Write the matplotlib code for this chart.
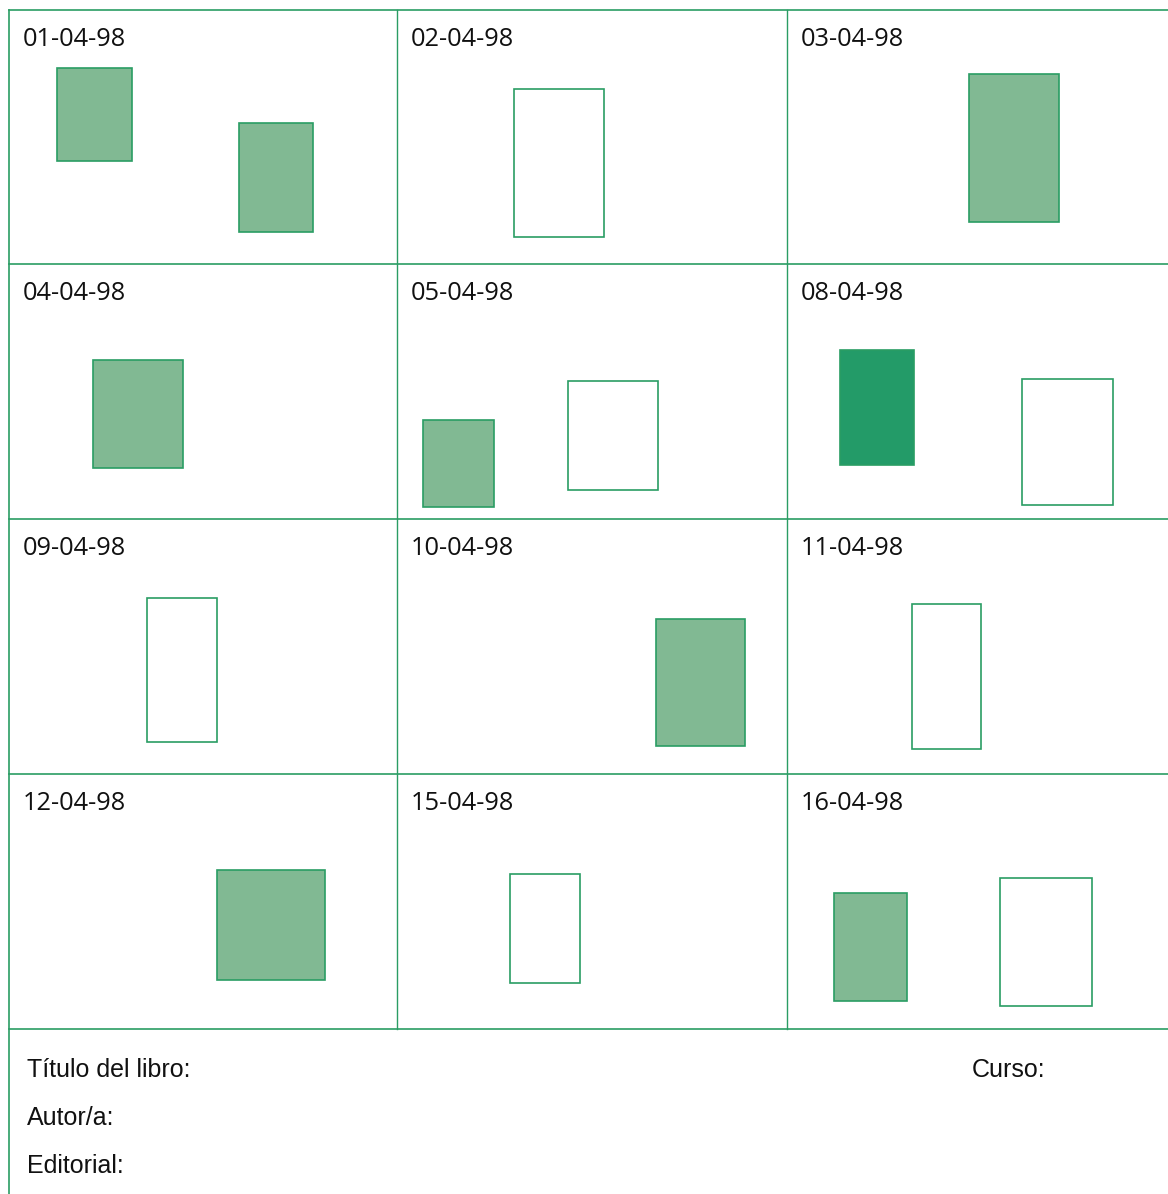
import matplotlib.pyplot as plt
from matplotlib.patches import Rectangle

# =======================
# grid (page pixel units)
# =======================
col_edges = [9, 397, 787, 1168]
row_edges = [10, 264, 519, 774, 1029]

dates = ["01-04-98", "02-04-98", "03-04-98",
         "04-04-98", "05-04-98", "08-04-98",
         "09-04-98", "10-04-98", "11-04-98",
         "12-04-98", "15-04-98", "16-04-98"]

# rectangles: left, top, right, bottom, kind
rect_left   = [57, 239, 514, 969, 93, 423, 568, 840, 1022, 147, 656, 912, 217, 510, 834, 1000]
rect_top    = [68, 123, 89, 74, 360, 420, 381, 350, 379, 598, 619, 604, 870, 874, 893, 878]
rect_right  = [132, 313, 604, 1059, 183, 494, 658, 914, 1113, 217, 745, 981, 325, 580, 907, 1092]
rect_bottom = [161, 232, 237, 222, 468, 507, 490, 465, 505, 742, 746, 749, 980, 983, 1001, 1006]
rect_kind   = ["fill", "fill", "empty", "fill", "fill", "fill", "empty", "dark", "empty",
               "empty", "fill", "empty", "fill", "empty", "fill", "empty"]

footer_left = ["Título del libro:", "Autor/a:", "Editorial:"]
footer_right = "Curso:"

# =======================
# colours
# =======================
line_green = '#2a9d64'
fill_light = '#81b993'
fill_dark  = '#239b68'

W, H = 1168, 1194
fig = plt.figure(figsize=(W / 100, H / 100), dpi=100)
ax = fig.add_axes([0, 0, 1, 1])
ax.set_xlim(0, W)
ax.set_ylim(H, 0)
ax.axis('off')

# grid lines
for y in row_edges:
    ax.plot([col_edges[0], col_edges[-1]], [y, y], color=line_green, lw=1.2)
for x in col_edges[1:-1]:
    ax.plot([x, x], [row_edges[0], row_edges[-1]], color=line_green, lw=1.0)
ax.plot([col_edges[0], col_edges[0]], [row_edges[0], H], color=line_green, lw=1.2)

# date labels
for i, d in enumerate(dates):
    r, c = divmod(i, 3)
    ax.text(col_edges[c] + 13.5, row_edges[r] + 29.5, d, fontsize=18.3,
            family=['Open Sans', 'DejaVu Sans'], color='#111111', va='center', ha='left')

# rectangles
for x0, y0, x1, y1, k in zip(rect_left, rect_top, rect_right, rect_bottom, rect_kind):
    if k == "fill":
        fc = fill_light
    elif k == "dark":
        fc = fill_dark
    else:
        fc = 'white'
    ax.add_patch(Rectangle((x0, y0), x1 - x0, y1 - y0, facecolor=fc,
                           edgecolor=line_green, lw=1.2))

# footer
narrow = ['Liberation Sans Narrow', 'Liberation Sans', 'DejaVu Sans']
for j, t in enumerate(footer_left):
    ax.text(27, 1070 + 48 * j, t, fontsize=18, family=narrow, color='#111111',
            va='center', ha='left')
ax.text(972, 1070, footer_right, fontsize=18, family=narrow, color='#111111',
        va='center', ha='left')

plt.savefig("out.png", dpi=100)
plt.close()
